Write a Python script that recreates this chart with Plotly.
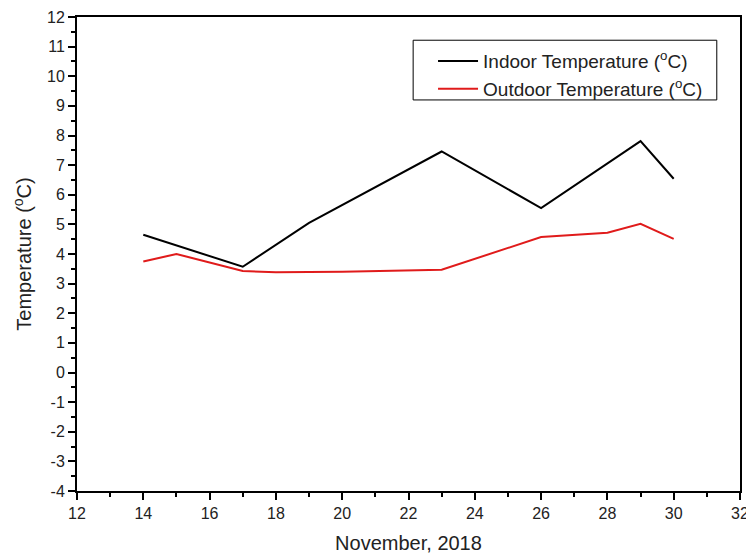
import plotly.graph_objects as go

indoor_days = [14, 17, 19, 23, 26, 29, 30]
indoor_temp = [4.65, 3.57, 5.05, 7.46, 5.55, 7.81, 6.54]

outdoor_days = [14, 15, 17, 18, 20, 21, 23, 26, 28, 29, 30]
outdoor_temp = [3.75, 4.0, 3.43, 3.38, 3.40, 3.43, 3.47, 4.57, 4.72, 5.02, 4.51]

x_ticks = list(range(12, 33, 2))
y_ticks = list(range(-4, 13, 1))

FONT = "Liberation Sans, Arial, sans-serif"

fig = go.Figure()
fig.add_trace(go.Scatter(x=indoor_days, y=indoor_temp, mode="lines",
                         name="Indoor Temperature (<sup>o</sup>C)",
                         line=dict(color="black", width=2)))
fig.add_trace(go.Scatter(x=outdoor_days, y=outdoor_temp, mode="lines",
                         name="Outdoor Temperature (<sup>o</sup>C)",
                         line=dict(color="#e01b1b", width=2)))

axis_common = dict(
    showgrid=False, zeroline=False, showline=True, linecolor="black",
    linewidth=2, mirror=True, ticks="outside", ticklen=7, tickwidth=2,
    tickcolor="black", tickfont=dict(family=FONT, size=16, color="#222"),
    automargin=False,
)

fig.update_xaxes(range=[12, 32], tickvals=x_ticks, ticktext=[str(v) for v in x_ticks],
                 minor=dict(ticks="outside", ticklen=4, tickwidth=2, tickcolor="black", dtick=1),
                 title=dict(text="November, 2018", font=dict(family=FONT, size=20, color="#222"), standoff=15),
                 **axis_common)
fig.update_yaxes(range=[-4, 12], tickvals=y_ticks, ticktext=[str(v) for v in y_ticks],
                 minor=dict(ticks="outside", ticklen=4, tickwidth=2, tickcolor="black", dtick=0.5),
                 title=dict(text="Temperature (<sup>o</sup>C)", font=dict(family=FONT, size=20, color="#222"), standoff=10),
                 **axis_common)

# legend frame
fig.add_shape(type="rect", xref="paper", yref="paper",
              x0=0.507, x1=0.965, y0=0.825, y1=0.951,
              line=dict(color="black", width=1), fillcolor="rgba(0,0,0,0)", layer="above")

fig.update_layout(
    width=746, height=546,
    margin=dict(l=69, r=14, t=9, b=63),
    paper_bgcolor="white", plot_bgcolor="white",
    font=dict(family=FONT, color="#222"),
    legend=dict(x=0.537, y=0.947, xanchor="left", yanchor="top",
                borderwidth=0, bgcolor="rgba(0,0,0,0)",
                font=dict(family=FONT, size=19, color="#222"),
                tracegroupgap=0, itemwidth=40),
    showlegend=True,
)

fig.write_html("out.html")
